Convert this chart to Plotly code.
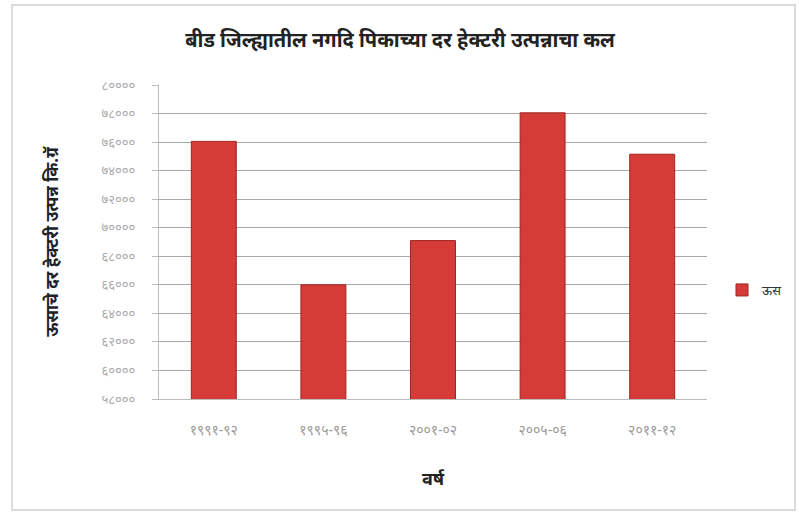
import plotly.graph_objects as go

categories = ["१९९१-९२", "१९९५-९६", "२००१-०२", "२००५-०६", "२०११-१२"]
values = [76050, 66000, 69100, 78050, 75150]
series_name = "ऊस"
y_ticks = list(range(58000, 80001, 2000))

dev = str.maketrans("0123456789", "०१२३४५६७८९")
y_ticktext = [str(v).translate(dev) for v in y_ticks]

W, H = 799, 519
ml, mr, mt, mb = 159, 92, 85, 120

fig = go.Figure()
fig.add_trace(go.Bar(
    x=categories, y=values, name=series_name,
    marker=dict(color="#D63C37", line=dict(color="#9E2420", width=1)),
    width=0.41,
))

pw = W - ml - mr
ph = H - mt - mb
def px_x(p):
    return (p - ml) / pw
def px_y(p):
    return (H - mb - p) / ph

fig.add_shape(type="rect", xref="paper", yref="paper",
              x0=px_x(12), x1=px_x(795), y0=px_y(510), y1=px_y(5),
              line=dict(color="#D0D0D0", width=1.5), layer="below")

font_family = "Noto Sans, Lato, DejaVu Sans, sans-serif"
fig.update_layout(
    width=W, height=H,
    margin=dict(l=ml, r=mr, t=mt, b=mb, autoexpand=False),
    paper_bgcolor="white", plot_bgcolor="white",
    font=dict(family=font_family, color="#222"),
    title=dict(text="<b>बीड जिल्ह्यातील नगदि पिकाच्या दर हेक्टरी उत्पन्नाचा कल</b>",
               x=400 / W, xanchor="center", y=1 - 40 / H, yanchor="middle",
               font=dict(size=20, color="#222")),
    showlegend=True,
    legend=dict(x=px_x(722), y=px_y(290), xanchor="left", yanchor="middle",
                font=dict(size=13, color="#333"), bgcolor="rgba(0,0,0,0)",
                itemwidth=30),
    bargap=0.59,
)
fig.update_xaxes(
    title=dict(text="<b>वर्ष</b>", font=dict(size=18, color="#222"), standoff=34),
    tickfont=dict(size=14, color="#999"),
    showline=True, linecolor="#BBBBBB", ticks="", showgrid=False,
    ticklabelstandoff=18, automargin=False,
)
fig.update_yaxes(
    range=[58000, 80000], tickvals=y_ticks, ticktext=y_ticktext,
    title=dict(text="<b>ऊसाचे दर हेक्टरी उत्पन्न कि.ग्रॅ</b>", font=dict(size=17, color="#222"), standoff=38),
    tickfont=dict(size=13, color="#AAAAAA"),
    showgrid=True, gridcolor="#A8A8A8", gridwidth=1,
    showline=True, linecolor="#BBBBBB", ticks="outside", ticklen=6, tickcolor="#BBBBBB",
    ticklabelstandoff=14, automargin=False,
    zeroline=False,
)

fig.write_html("out.html", post_script="document.body.style.margin='0';",
               config={"displayModeBar": False})
